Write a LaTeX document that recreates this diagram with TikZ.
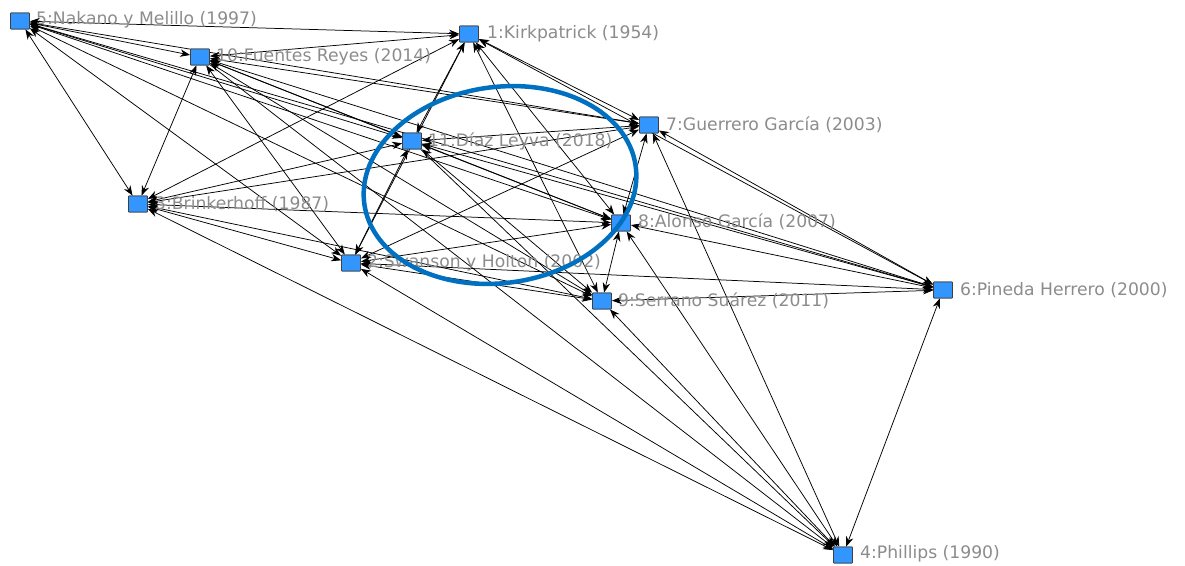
\documentclass[tikz,border=0pt]{standalone}
\usepackage{fontspec}
\setmainfont{DejaVu Sans}
\usetikzlibrary{arrows.meta}
\definecolor{nodeblue}{RGB}{51,150,255}
\definecolor{labelgray}{RGB}{140,140,140}
\definecolor{ringblue}{RGB}{0,112,192}
\tikzset{
  actor/.style={draw=black!75, fill=nodeblue, minimum width=19pt, minimum height=16pt, inner sep=0pt, line width=0.8pt, rounded corners=0.6pt},
  tag/.style={anchor=west, text=labelgray, font=\fontsize{17.2}{19}\selectfont, inner sep=0pt},
  tie/.style={line width=0.75pt, {Stealth[length=10pt,width=7.5pt]}-{Stealth[length=10pt,width=7.5pt]}},
  onetie/.style={line width=0.75pt, -{Stealth[length=10pt,width=7.5pt]}}
}
\begin{document}
\begin{tikzpicture}[x=1pt,y=-1pt]
\useasboundingbox (0,0) rectangle (1185,565);
\fill[white] (0,0) rectangle (1185,565);

% actors
\node[actor] (n1)  at (469,34)  {};
\node[actor] (n2)  at (351,263) {};
\node[actor] (n3)  at (138,204) {};
\node[actor] (n4)  at (843,555) {};
\node[actor] (n5)  at (20,21)   {};
\node[actor] (n6)  at (943,290) {};
\node[actor] (n7)  at (649,125) {};
\node[actor] (n8)  at (621,223) {};
\node[actor] (n9)  at (602,301) {};
\node[actor] (n10) at (200,57)  {};
\node[actor] (n11) at (412,141) {};

% ties
\begin{scope}
\foreach \a/\b in {5/10,5/1,5/3,5/11,5/7,5/8,5/2,5/9,5/6,
                   10/1,10/3,10/11,10/7,10/8,10/2,10/9,10/6,
                   1/11,1/2,1/7,1/8,1/9,1/6,1/3,
                   11/3,11/2,11/8,11/9,11/7,11/6,
                   3/2,3/8,3/9,3/4,3/7,
                   7/8,7/6,7/4,7/2,
                   8/2,8/9,8/6,8/4,
                   2/9,2/6,2/4,
                   9/6,9/4,6/4}
  \draw[tie] (n\a) -- (n\b);
\draw[onetie] (n11) -- (n4);
\draw[onetie] (n10) -- (n4);
\end{scope}

% redraw actors above ties
\foreach \i in {1,...,11} \node[actor] at (n\i) {};

% labels
\node[tag] (l1)  at (487,34)  {1:Kirkpatrick (1954)};
\node[tag] (l2)  at (367,263) {2:Swanson y Holton (2002)};
\node[tag] (l3)  at (155,204) {3:Brinkerhoff (1987)};
\node[tag] (l4)  at (860,554) {4:Phillips (1990)};
\node[tag] (l5)  at (36,20)   {5:Nakano y Melillo (1997)};
\node[tag] (l6)  at (960,290) {6:Pineda Herrero (2000)};
\node[tag] (l7)  at (666,125) {7:Guerrero García (2003)};
\node[tag] (l8)  at (638,222) {8:Alonso García (2007)};
\node[tag] (l9)  at (618,301) {9:Serrano Suárez (2011)};
\node[tag] (l10) at (216,57)  {10:Fuentes Reyes (2014)};
\node[tag] (l11) at (428,141) {11:Díaz Leyva (2018)};

% highlight ring
\draw[ringblue, line width=4.5pt, rotate around={8:(500,185)}] (500,185) ellipse[x radius=137, y radius=98];
\end{tikzpicture}
\end{document}
